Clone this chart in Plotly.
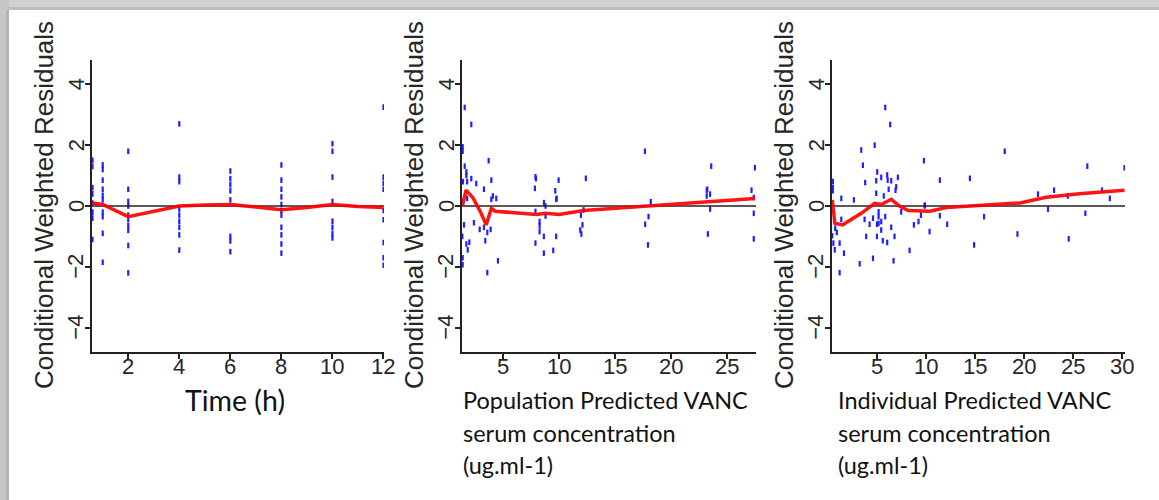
import plotly.graph_objects as go

# ---------------- data ----------------
# Panel 1: CWRES vs time (h) - values grouped by sampling time
time_levels = [0.6, 1, 2, 4, 6, 8, 10, 12]
cwres_t06 = [1.5, 1.3, 0.6, 0.4, 0.1, -0.2, -0.4, -1.1]
cwres_t1 = [1.35, 1.2, 0.85, 0.55, 0.35, 0.2, -0.2, -0.35, -0.9, -1.85]
cwres_t2 = [1.8, 0.55, 0.15, 0.0, -0.3, -0.45, -0.65, -0.8, -1.3, -2.2]
cwres_t4 = [2.7, 0.95, 0.8, -0.1, -0.3, -0.5, -0.7, -0.95, -1.45]
cwres_t6 = [1.15, 0.9, 0.7, 0.5, 0.2, -1.0, -1.15, -1.5]
cwres_t8 = [1.35, 0.85, 0.55, 0.3, 0.05, -0.15, -0.3, -0.7, -0.95, -1.25, -1.55]
cwres_t10 = [2.05, 1.8, 0.95, 0.15, -0.5, -0.7, -0.9, -1.05]
cwres_t12 = [3.25, 0.95, 0.75, 0.55, -0.15, -0.45, -1.2, -1.7, -1.95]
time_smooth_x = [0.6, 1, 2, 3, 4, 5, 6, 7, 8, 9, 10, 11, 12]
time_smooth_y = [0.1, 0.05, -0.35, -0.18, 0.0, 0.03, 0.05, -0.03, -0.12, -0.05, 0.05, -0.02, -0.05]

# Panel 2: CWRES vs population predicted concentration
pop_x = [1.58, 2.17, 1.40, 1.40, 1.58, 1.73, 1.73, 1.43, 1.80, 2.17, 2.61, 3.72, 3.96, 3.30, 4.10,
         4.40, 3.96, 1.80, 1.52, 2.40, 2.92, 3.30, 1.37, 3.60, 3.90, 3.42, 1.73, 2.00, 1.85, 1.40,
         1.40, 4.55, 3.60, 7.90, 7.95, 7.85, 9.97, 9.67, 9.75, 9.80, 8.66, 8.80, 7.90, 8.80, 8.27,
         8.27, 8.27, 9.75, 8.65, 7.90, 9.49, 8.65, 12.4, 12.2, 11.96, 12.1, 11.9, 12.0, 17.68, 18.2,
         18.0, 17.7, 17.95, 23.6, 23.2, 23.25, 23.5, 23.2, 23.5, 23.3, 27.5, 27.2, 27.4, 27.4, 27.4]
pop_y = [3.24, 2.68, 1.95, 1.8, 1.31, 1.12, 1.0, 0.8, 0.8, 0.9, 0.74, 1.49, 0.85, 0.55, 0.33,
         0.25, 0.22, 0.25, -0.62, -0.55, -0.77, -0.7, -1.0, -0.87, -0.77, -1.14, -1.25, -1.19, -1.44, -1.7,
         -1.93, -1.8, -2.19, 0.96, 0.9, 0.58, 0.85, 0.5, 0.22, 0.25, 0.11, 0.0, -0.18, -0.33, -0.51,
         -0.65, -0.84, -1.0, -1.0, -1.22, -1.46, -1.55, 0.91, -0.13, -0.3, -0.62, -0.79, -0.92, 1.8, 0.14,
         -0.35, -0.6, -1.28, 1.31, 0.52, 0.55, 0.39, 0.33, -0.1, -0.92, 1.26, 0.52, 0.28, -0.24, -1.08]
pop_smooth_x = [1.37, 1.7, 2.3, 3.0, 3.5, 3.96, 4.3, 6, 8, 8.8, 10, 12.2, 16, 18, 22, 27.5]
pop_smooth_y = [0.0, 0.52, 0.28, -0.2, -0.62, -0.08, -0.17, -0.22, -0.28, -0.24, -0.28, -0.15, -0.05, 0.0, 0.1, 0.25]

# Panel 3: CWRES vs individual predicted concentration
ind_x = [5.85, 6.36, 4.77, 3.40, 3.57, 9.80, 5.03, 5.44, 4.93, 6.05, 6.10, 6.46, 7.14, 6.97, 6.90,
         6.20, 3.80, 4.93, 5.70, 0.50, 0.50, 0.50, 1.36, 2.65, 9.87, 7.48, 9.50, 1.36, 5.17, 5.17,
         5.17, 3.74, 4.60, 5.85, 4.25, 5.00, 5.44, 6.46, 8.78, 9.25, 10.38, 0.74, 0.90, 0.44, 5.44,
         5.00, 3.90, 6.80, 5.60, 6.05, 0.55, 1.19, 0.69, 1.63, 8.34, 4.60, 3.24, 6.70, 1.19, 9.90,
         11.43, 11.43, 12.18, 14.5, 15.95, 14.93, 18.06, 19.36, 21.46, 22.48, 23.1, 24.5, 24.6, 26.5, 26.3,
         28.0, 28.8, 30.3]
ind_y = [3.24, 2.68, 2.0, 1.84, 1.34, 1.49, 1.12, 0.94, 0.83, 1.02, 0.85, 0.83, 0.94, 0.63, 0.52,
         0.55, 0.77, 0.42, 0.33, 0.8, 0.6, 0.5, 0.25, 0.2, 0.0, -0.19, -0.3, -0.44, -0.19, -0.35,
         -0.57, -0.44, -0.4, -0.35, -0.6, -0.6, -0.51, -0.7, -0.62, -0.51, -0.84, -0.73, -0.87, -0.98, -0.79,
         -1.0, -1.0, -1.0, -1.14, -1.2, -1.22, -1.22, -1.44, -1.55, -1.46, -1.72, -1.9, -1.8, -2.19, 0.03,
         0.85, -0.32, -0.6, 0.91, -0.35, -1.28, 1.8, -0.92, 0.39, -0.1, 0.52, 0.33, -1.08, 1.31, -0.24,
         0.52, 0.25, 1.26]
ind_smooth_x = [0.44, 0.7, 1.5, 3.4, 4.77, 5.44, 6.46, 7.3, 8.2, 9.2, 10.4, 12.1, 14.5, 17.2, 19.6, 22.3, 25.7, 30.3]
ind_smooth_y = [0.2, -0.57, -0.62, -0.24, 0.09, 0.05, 0.22, 0.0, -0.15, -0.15, -0.17, -0.05, 0.0, 0.03, 0.1, 0.29, 0.4, 0.52]

y_ticks = [-4, -2, 0, 2, 4]
y_ticklabels = ["\u22124", "\u22122", "0", "2", "4"]
time_ticks = [2, 4, 6, 8, 10, 12]
pop_ticks = [5, 10, 15, 20, 25]
ind_ticks = [5, 10, 15, 20, 25, 30]
y_title = "Conditional Weighted Residuals"
x_labels = [["Time (h)"],
            ["Population Predicted VANC", "serum concentration", "(ug.ml-1)"],
            ["Individual Predicted VANC", "serum concentration", "(ug.ml-1)"]]

# ---------------- figure ----------------
W, H = 1159, 500
time_x = []
time_y = []
for lvl, col in zip(time_levels, [cwres_t06, cwres_t1, cwres_t2, cwres_t4, cwres_t6,
                                  cwres_t8, cwres_t10, cwres_t12]):
    time_x += [lvl] * len(col)
    time_y += col

panels = [
    dict(px=(92, 384), rng=[0.58, 12.02], ticks=time_ticks, sx=time_x, sy=time_y,
         lx=time_smooth_x, ly=time_smooth_y),
    dict(px=(462, 756), rng=[1.34, 27.6], ticks=pop_ticks, sx=pop_x, sy=pop_y,
         lx=pop_smooth_x, ly=pop_smooth_y),
    dict(px=(832, 1125), rng=[0.41, 30.35], ticks=ind_ticks, sx=ind_x, sy=ind_y,
         lx=ind_smooth_x, ly=ind_smooth_y),
]
ydom = [1 - 352 / H, 1 - 60 / H]
yr = [-4.8, 4.8]

fig = go.Figure()
layout = dict(width=W, height=H, margin=dict(l=0, r=0, t=0, b=0),
              paper_bgcolor="white", plot_bgcolor="rgba(0,0,0,0)", showlegend=False)
shapes = []
annotations = []
tickfont = dict(family="Liberation Sans, Arial, sans-serif", size=22, color="#262626")

for i, p in enumerate(panels, start=1):
    sfx = "" if i == 1 else str(i)
    xa, ya = "x" + sfx, "y" + sfx
    fig.add_trace(go.Scatter(x=p["sx"], y=p["sy"], mode="markers", xaxis=xa, yaxis=ya,
                             marker=dict(symbol="line-ns", size=4,
                                         line=dict(width=2.2, color="#1f1fff"))))
    fig.add_trace(go.Scatter(x=p["rng"], y=[0, 0], mode="lines", xaxis=xa, yaxis=ya,
                             line=dict(color="#222222", width=1.5)))
    fig.add_trace(go.Scatter(x=p["lx"], y=p["ly"], mode="lines", xaxis=xa, yaxis=ya,
                             line=dict(color="rgba(255,0,0,0.92)", width=3.5)))
    layout["xaxis" + sfx] = dict(domain=[p["px"][0] / W, p["px"][1] / W], range=p["rng"],
                                 anchor=ya, showgrid=False, zeroline=False, showline=True,
                                 linecolor="#222222", linewidth=1.5, ticks="outside",
                                 ticklen=5, tickwidth=1.5, tickcolor="#222222",
                                 tickvals=p["ticks"], showticklabels=False)
    layout["yaxis" + sfx] = dict(domain=ydom, range=yr, anchor=xa, showgrid=False,
                                 zeroline=False, showline=True, linecolor="#222222",
                                 linewidth=1.5, ticks="outside", ticklen=5, tickwidth=1.5,
                                 tickcolor="#222222", tickvals=y_ticks, showticklabels=False)
    # tick labels placed on the axes' own scales
    for tv in p["ticks"]:
        annotations.append(dict(text=str(tv), xref=xa, yref="paper", x=tv, y=1 - 366 / H,
                                showarrow=False, xanchor="center", yanchor="middle",
                                font=tickfont))
    for tv, tl in zip(y_ticks, y_ticklabels):
        annotations.append(dict(text=tl, textangle=-90, xref="paper", yref=ya,
                                x=(p["px"][0] - 16) / W, y=tv, showarrow=False,
                                xanchor="center", yanchor="middle", font=tickfont))
    annotations.append(dict(text=y_title, textangle=-90, xref="paper", yref="paper",
                            x=(p["px"][0] - 48) / W, y=1 - 205 / H, showarrow=False,
                            font=dict(family="Liberation Sans, Arial, sans-serif", size=26,
                                      color="#262626"),
                            xanchor="center", yanchor="middle"))

# x-axis titles (text below each panel)
annotations.append(dict(text=x_labels[0][0], xref="paper", yref="paper", x=235 / W,
                        y=1 - 400 / H, showarrow=False, xanchor="center", yanchor="middle",
                        font=dict(family="Lato, sans-serif", size=28.5, color="#111111")))
for j, left in [(1, 461), (2, 836)]:
    for k, line in enumerate(x_labels[j]):
        annotations.append(dict(text=line, xref="paper", yref="paper", x=left / W,
                                y=1 - (400 + 32.5 * k) / H, showarrow=False, xanchor="left",
                                yanchor="middle",
                                font=dict(family="Lato, sans-serif", size=23.5, color="#111111")))

# frame shadow
shapes += [
    dict(type="rect", xref="paper", yref="paper", x0=0, x1=1, y0=1 - 10 / H, y1=1,
         fillcolor="#d0d0d0", line=dict(width=0), layer="above"),
    dict(type="rect", xref="paper", yref="paper", x0=0, x1=1, y0=1 - 10 / H, y1=1 - 7 / H,
         fillcolor="#bcbcbc", line=dict(width=0), layer="above"),
    dict(type="rect", xref="paper", yref="paper", x0=0, x1=9 / W, y0=0, y1=1,
         fillcolor="#c6c6c6", line=dict(width=0), layer="above"),
    dict(type="rect", xref="paper", yref="paper", x0=6 / W, x1=9 / W, y0=0, y1=1 - 10 / H,
         fillcolor="#b3b3b3", line=dict(width=0), layer="above"),
]
layout["shapes"] = shapes
layout["annotations"] = annotations
fig.update_layout(**layout)
fig.write_html(
    "out.html", config={"displayModeBar": False},
    post_script=(
        "var gd=document.getElementById('{plot_id}');"
        "var de=document.documentElement, b=document.body;"
        "de.style.margin='0';de.style.padding='0';de.style.overflow='hidden';"
        "de.style.width='1159px';de.style.height='500px';"
        "b.style.margin='0';b.style.padding='0';b.style.overflow='hidden';"
        "b.style.width='1159px';b.style.height='500px';"
        "if(gd&&gd.parentElement){gd.parentElement.style.height='500px';"
        "gd.parentElement.style.overflow='hidden';}"
    ))
